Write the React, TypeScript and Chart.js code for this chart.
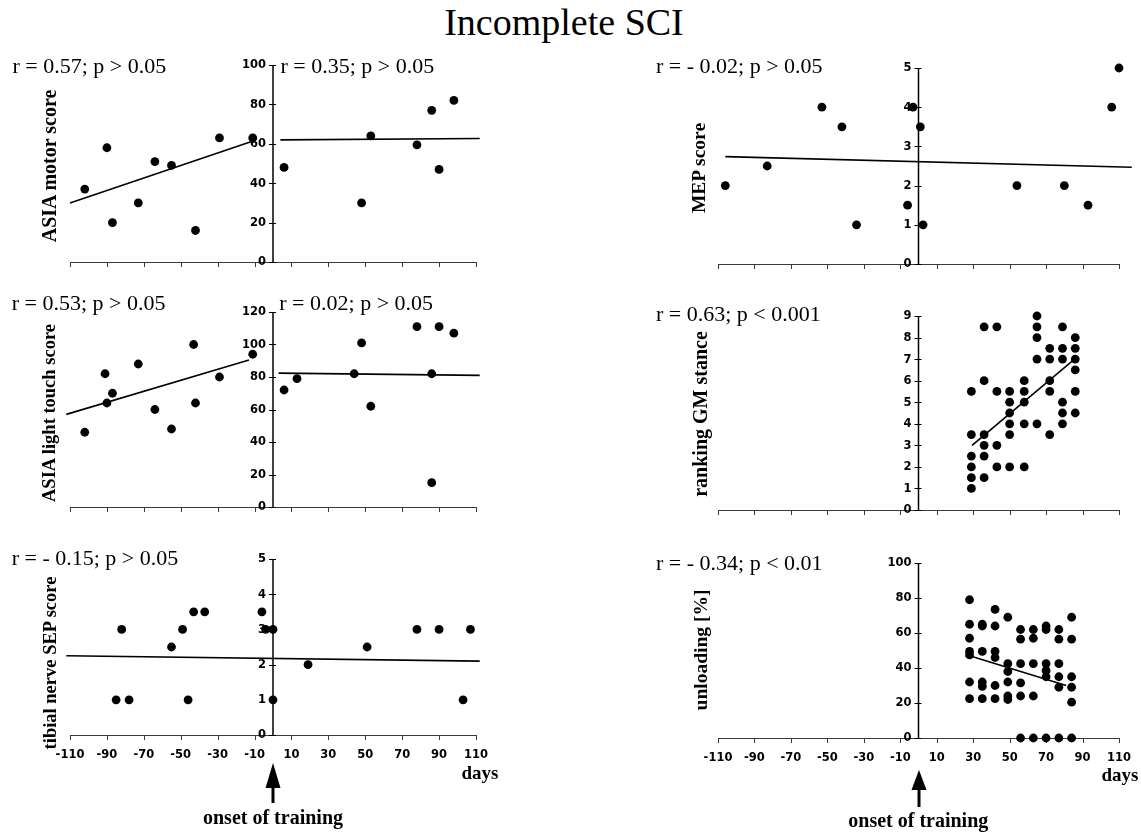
import React, { useEffect, useRef } from 'react';
import { Chart, registerables } from 'chart.js';

Chart.register(...registerables);

// ---------- shared axis values ----------
const xTickValues = [-110, -90, -70, -50, -30, -10, 10, 30, 50, 70, 90, 110];

// ---------- ASIA motor score ----------
const motorPreDays = [-102, -90, -87, -73, -64, -55, -42, -29, -11];
const motorPreScores = [37, 58, 20, 30, 51, 49, 16, 63, 63];
const motorPostDays = [6, 48, 53, 78, 86, 90, 98, 113];
const motorPostScores = [48, 30, 64, 59.5, 77, 47, 82, 58];
const motorPreFitDays = [-110, -12];
const motorPreFitScores = [30, 61];
const motorPostFitDays = [4, 112];
const motorPostFitScores = [62, 62.7];
const motorTicks = [0, 20, 40, 60, 80, 100];

// ---------- ASIA light touch score ----------
const lightPreDays = [-102, -91, -90, -87, -73, -64, -55, -43, -42, -29, -11];
const lightPreScores = [46, 82, 64, 70, 88, 60, 48, 100, 64, 80, 94];
const lightPostDays = [6, 13, 44, 48, 53, 78, 86, 86, 90, 98, 113];
const lightPostScores = [72, 79, 82, 101, 62, 111, 82, 15, 111, 107, 63];
const lightPreFitDays = [-112, -13];
const lightPreFitScores = [57, 90.5];
const lightPostFitDays = [3, 112];
const lightPostFitScores = [82.4, 81];
const lightTicks = [0, 20, 40, 60, 80, 100, 120];

// ---------- tibial nerve SEP score ----------
const sepDays = [-85, -82, -78, -55, -49, -46, -43, -37, -6, -4, 0, 0, 19, 51, 78, 90, 103, 107];
const sepScores = [1, 3, 1, 2.5, 3, 1, 3.5, 3.5, 3.5, 3, 3, 1, 2, 2.5, 3, 3, 1, 3];
const sepFitDays = [-112, 112];
const sepFitScores = [2.25, 2.1];
const sepTicks = [0, 1, 2, 3, 4, 5];

// ---------- MEP score ----------
const mepDays = [-106, -83, -53, -42, -34, -6, -3, 1, 2.5, 54, 80, 93, 106, 110];
const mepScores = [2, 2.5, 4, 3.5, 1, 1.5, 4, 3.5, 1, 2, 2, 1.5, 4, 5];
const mepFitDays = [-106, 117];
const mepFitScores = [2.74, 2.47];
const mepTicks = [0, 1, 2, 3, 4, 5];

// ---------- ranking GM stance ----------
const gmDays = [
  29, 29, 29, 29, 29, 29,
  36, 36, 36, 36, 36, 36,
  43, 43, 43, 43,
  50, 50, 50, 50, 50, 50,
  58, 58, 58, 58, 58,
  65, 65, 65, 65, 65,
  72, 72, 72, 72, 72,
  79, 79, 79, 79, 79, 79,
  86, 86, 86, 86, 86, 86,
];
const gmRanks = [
  5.5, 3.5, 2.5, 2, 1.5, 1,
  8.5, 6, 3.5, 3, 2.5, 1.5,
  8.5, 5.5, 3, 2,
  5.5, 5, 4.5, 4, 3.5, 2,
  6, 5.5, 5, 4, 2,
  9, 8.5, 8, 7, 4,
  7.5, 7, 6, 5.5, 3.5,
  8.5, 7.5, 7, 5, 4.5, 4,
  8, 7.5, 7, 6.5, 5.5, 4.5,
];
const gmFitDays = [29.4, 85.6];
const gmFitRanks = [3.0, 7.0];
const gmTicks = [0, 1, 2, 3, 4, 5, 6, 7, 8, 9];

// ---------- unloading [%] ----------
const unloadDays = [
  28, 28, 28, 28, 28, 28, 28,
  35, 35, 35, 35, 35, 35,
  42, 42, 42, 42, 42, 42,
  49, 49, 49, 49, 49, 49,
  56, 56, 56, 56, 56, 56,
  63, 63, 63, 63, 63,
  70, 70, 70, 70, 70, 70,
  77, 77, 77, 77, 77, 77,
  84, 84, 84, 84, 84, 84,
];
const unloadPct = [
  79, 65, 57, 49.5, 47.5, 32, 22.5,
  65, 64, 49.5, 32, 29.5, 22.5,
  73.5, 64, 49.5, 46, 30, 22.5,
  69, 42.5, 38, 32, 24, 22,
  62, 56.5, 42.5, 31.5, 24, 0,
  62, 57, 42.5, 24, 0,
  64, 62, 42.5, 38.5, 35, 0,
  62, 56.5, 42.5, 35, 29, 0,
  69, 56.5, 35, 29, 20.5, 0,
];
const unloadFitDays = [28, 81];
const unloadFitPct = [47, 30];
const unloadTicks = [0, 20, 40, 60, 80, 100];

// ---------- helpers ----------
type Pt = { x: number; y: number };
const zip = (xs: number[], ys: number[]): Pt[] => xs.map((x, i) => ({ x, y: ys[i] }));

interface PanelCfg {
  xl: number;
  xr: number;
  yt: number;
  yb: number;
  yTicks: number[];
  showXLabels: boolean;
  points: Pt[];
  fits: Pt[][];
}

const SERIF = "'Liberation Serif', 'Times New Roman', Times, serif";
const TICK_FONT = "bold 11.5px 'DejaVu Sans', Verdana, sans-serif";

const PAD_L = 60;
const PAD_R = 30;
const PAD_T = 15;
const PAD_B = 34;

function makeAxesPlugin(cfg: PanelCfg) {
  return {
    id: 'customAxes',
    beforeDatasetsDraw(chart: any) {
      const ctx: CanvasRenderingContext2D = chart.ctx;
      const xs = chart.scales.x;
      const ys = chart.scales.y;
      const { left, right, top, bottom } = chart.chartArea;
      ctx.save();
      // x axis
      ctx.strokeStyle = '#3a3a3a';
      ctx.lineWidth = 1;
      ctx.beginPath();
      ctx.moveTo(left, Math.round(bottom) + 0.5);
      ctx.lineTo(right, Math.round(bottom) + 0.5);
      xTickValues.forEach((v) => {
        const px = Math.round(xs.getPixelForValue(v)) + 0.5;
        ctx.moveTo(px, bottom);
        ctx.lineTo(px, bottom + 5);
      });
      ctx.stroke();
      if (cfg.showXLabels) {
        ctx.fillStyle = '#000';
        ctx.font = TICK_FONT;
        ctx.textAlign = 'center';
        ctx.textBaseline = 'middle';
        xTickValues.forEach((v) => {
          ctx.fillText(String(v), xs.getPixelForValue(v), bottom + 20);
        });
      }
      // y axis at day 0
      const x0 = xs.getPixelForValue(0);
      ctx.strokeStyle = '#000';
      ctx.lineWidth = 1.5;
      ctx.beginPath();
      ctx.moveTo(x0, top);
      ctx.lineTo(x0, bottom);
      ctx.stroke();
      ctx.lineWidth = 1;
      ctx.beginPath();
      cfg.yTicks.forEach((v) => {
        const py = Math.round(ys.getPixelForValue(v)) + 0.5;
        ctx.moveTo(x0 - 4, py);
        ctx.lineTo(x0 + 3, py);
      });
      ctx.stroke();
      ctx.fillStyle = '#000';
      ctx.font = TICK_FONT;
      ctx.textAlign = 'right';
      ctx.textBaseline = 'middle';
      cfg.yTicks.forEach((v) => {
        ctx.fillText(String(v), x0 - 7, ys.getPixelForValue(v) + 0.5);
      });
      ctx.restore();
    },
  };
}

function Panel({ cfg }: { cfg: PanelCfg }) {
  const ref = useRef<HTMLCanvasElement>(null);
  const w = cfg.xr - cfg.xl + PAD_L + PAD_R;
  const h = cfg.yb - cfg.yt + PAD_T + PAD_B;
  useEffect(() => {
    if (!ref.current) return;
    const ymax = cfg.yTicks[cfg.yTicks.length - 1];
    const datasets: any[] = [
      {
        data: cfg.points,
        pointRadius: 4.4,
        pointHoverRadius: 4.4,
        backgroundColor: '#000',
        borderColor: '#000',
        borderWidth: 0,
        clip: false,
      },
      ...cfg.fits.map((f) => ({
        data: f,
        showLine: true,
        pointRadius: 0,
        pointHoverRadius: 0,
        borderColor: '#000',
        borderWidth: 1.6,
        backgroundColor: '#000',
        fill: false,
        clip: false,
      })),
    ];
    const chart = new Chart(ref.current, {
      type: 'scatter',
      data: { datasets },
      options: {
        animation: false,
        responsive: false,
        maintainAspectRatio: false,
        devicePixelRatio: 1,
        events: [],
        layout: { padding: { left: PAD_L, right: PAD_R, top: PAD_T, bottom: PAD_B } },
        scales: {
          x: { type: 'linear', min: -110, max: 110, display: false },
          y: { type: 'linear', min: 0, max: ymax, display: false },
        },
        plugins: { legend: { display: false }, tooltip: { enabled: false } },
      },
      plugins: [makeAxesPlugin(cfg)],
    } as any);
    return () => chart.destroy();
  }, [cfg]);
  return (
    <canvas
      ref={ref}
      width={w}
      height={h}
      style={{ position: 'absolute', left: cfg.xl - PAD_L, top: cfg.yt - PAD_T, width: w, height: h }}
    />
  );
}

const LX = { xl: 70, xr: 476 };
const RX = { xl: 718, xr: 1119 };

const panels: PanelCfg[] = [
  {
    ...LX, yt: 65, yb: 262, yTicks: motorTicks, showXLabels: false,
    points: [...zip(motorPreDays, motorPreScores), ...zip(motorPostDays, motorPostScores)],
    fits: [zip(motorPreFitDays, motorPreFitScores), zip(motorPostFitDays, motorPostFitScores)],
  },
  {
    ...LX, yt: 312, yb: 507, yTicks: lightTicks, showXLabels: false,
    points: [...zip(lightPreDays, lightPreScores), ...zip(lightPostDays, lightPostScores)],
    fits: [zip(lightPreFitDays, lightPreFitScores), zip(lightPostFitDays, lightPostFitScores)],
  },
  {
    ...LX, yt: 559, yb: 735, yTicks: sepTicks, showXLabels: true,
    points: zip(sepDays, sepScores),
    fits: [zip(sepFitDays, sepFitScores)],
  },
  {
    ...RX, yt: 68, yb: 264, yTicks: mepTicks, showXLabels: false,
    points: zip(mepDays, mepScores),
    fits: [zip(mepFitDays, mepFitScores)],
  },
  {
    ...RX, yt: 316, yb: 510, yTicks: gmTicks, showXLabels: false,
    points: zip(gmDays, gmRanks),
    fits: [zip(gmFitDays, gmFitRanks)],
  },
  {
    ...RX, yt: 563, yb: 738, yTicks: unloadTicks, showXLabels: true,
    points: zip(unloadDays, unloadPct),
    fits: [zip(unloadFitDays, unloadFitPct)],
  },
];

// ---------- text helpers ----------
const ASC = 0.8375; // baseline offset (em) for Liberation Serif with line-height 1

function Txt(props: { x: number; baseline: number; size: number; bold?: boolean; center?: boolean; children: React.ReactNode }) {
  const { x, baseline, size, bold, center, children } = props;
  return (
    <div
      style={{
        position: 'absolute',
        left: x,
        top: baseline - ASC * size,
        fontFamily: SERIF,
        fontSize: size,
        fontWeight: bold ? 'bold' : 'normal',
        lineHeight: 1,
        whiteSpace: 'nowrap',
        color: '#000',
        transform: center ? 'translateX(-50%)' : undefined,
      }}
    >
      {children}
    </div>
  );
}

function VTxt(props: { cx: number; cy: number; size: number; children: React.ReactNode }) {
  const { cx, cy, size, children } = props;
  return (
    <div
      style={{
        position: 'absolute',
        left: cx,
        top: cy,
        fontFamily: SERIF,
        fontSize: size,
        fontWeight: 'bold',
        lineHeight: 1,
        whiteSpace: 'nowrap',
        color: '#000',
        transform: 'translate(-50%, -50%) rotate(-90deg)',
      }}
    >
      {children}
    </div>
  );
}

function Arrow(props: { x: number; tip: number; base: number; end: number }) {
  const { x, tip, base, end } = props;
  const w = 18;
  return (
    <svg
      width={w}
      height={end - tip + 2}
      style={{ position: 'absolute', left: x - w / 2, top: tip }}
    >
      <polygon points={`${w / 2},0 ${w / 2 - 7.5},${base - tip} ${w / 2 + 7.5},${base - tip}`} fill="#000" />
      <rect x={w / 2 - 1.5} y={base - tip - 1} width={3} height={end - base + 1} fill="#000" />
    </svg>
  );
}

export default function App() {
  return (
    <div
      style={{
        position: 'absolute',
        left: 0,
        top: 0,
        width: 1141,
        height: 834,
        background: '#fff',
        overflow: 'hidden',
      }}
    >
      {panels.map((p, i) => (
        <Panel key={i} cfg={p} />
      ))}

      <Txt x={564} baseline={35} size={38} center>Incomplete SCI</Txt>

      <Txt x={12.5} baseline={73} size={22}>r = 0.57; p &gt; 0.05</Txt>
      <Txt x={280.5} baseline={73.3} size={22}>r = 0.35; p &gt; 0.05</Txt>
      <Txt x={11.7} baseline={310.7} size={22}>r = 0.53; p &gt; 0.05</Txt>
      <Txt x={279.3} baseline={310.7} size={22}>r = 0.02; p &gt; 0.05</Txt>
      <Txt x={11.7} baseline={565} size={22}>r = - 0.15; p &gt; 0.05</Txt>
      <Txt x={656} baseline={73.3} size={22}>r = - 0.02; p &gt; 0.05</Txt>
      <Txt x={656} baseline={321.7} size={22}>r = 0.63; p &lt; 0.001</Txt>
      <Txt x={656} baseline={570} size={22}>r = - 0.34; p &lt; 0.01</Txt>

      <VTxt cx={48.5} cy={166} size={20}>ASIA motor score</VTxt>
      <VTxt cx={48.5} cy={412.5} size={18.5}>ASIA light touch score</VTxt>
      <VTxt cx={50} cy={662.5} size={18.5}>tibial nerve SEP score</VTxt>
      <VTxt cx={699} cy={168.3} size={19.5}>MEP score</VTxt>
      <VTxt cx={700} cy={414} size={20}>ranking GM stance</VTxt>
      <VTxt cx={701} cy={650} size={19.5}>unloading [%]</VTxt>

      <Txt x={480} baseline={779.3} size={19} bold center>days</Txt>
      <Txt x={1120} baseline={781} size={19} bold center>days</Txt>

      <Arrow x={273} tip={763} base={788} end={803} />
      <Arrow x={919} tip={770} base={790} end={807} />
      <Txt x={273} baseline={824} size={20} bold center>onset of training</Txt>
      <Txt x={918.3} baseline={826.7} size={20} bold center>onset of training</Txt>
    </div>
  );
}
